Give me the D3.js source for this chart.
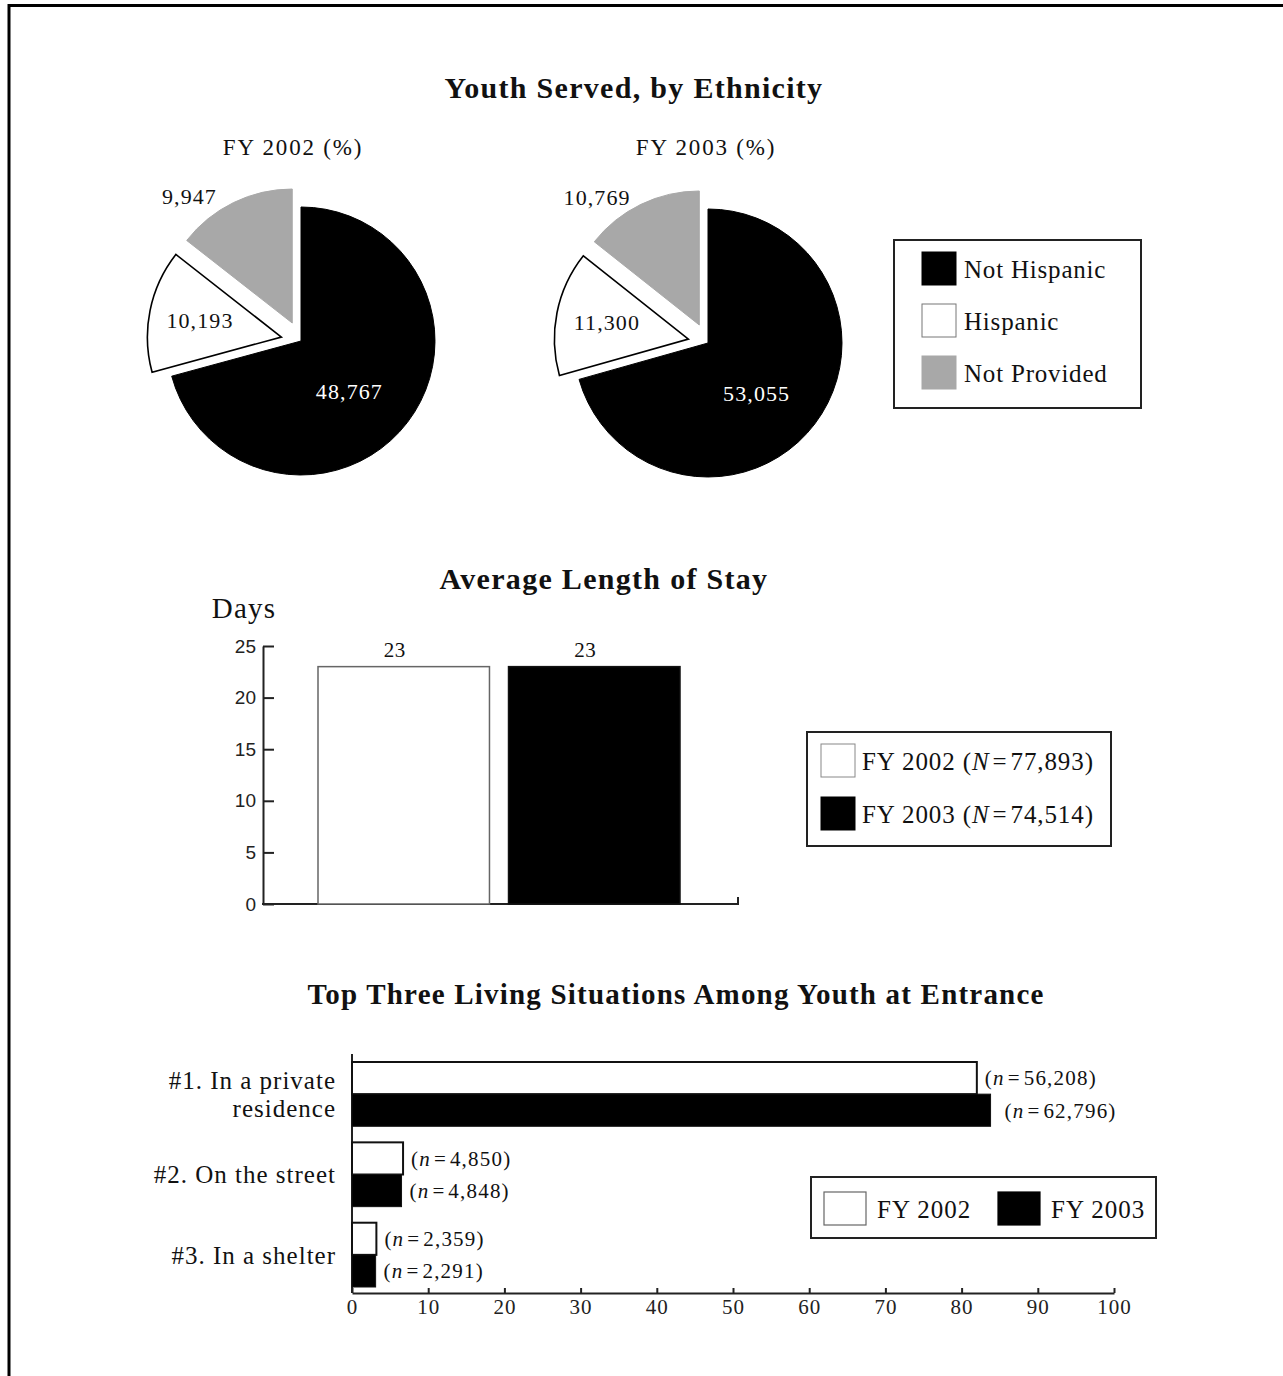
<!DOCTYPE html>
<html>
<head>
<meta charset="utf-8">
<script src="https://cdn.jsdelivr.net/npm/d3@7"></script>
<style>
  html, body { margin: 0; padding: 0; background: #fff; }
  svg { display: block; }
  text { font-family: "Liberation Serif", "Times New Roman", serif; fill: #111; }
</style>
</head>
<body>
<svg id="chart" width="1283" height="1376"></svg>
<script>
// ---- data ----
const ethnicityCategories = ["Not Hispanic", "Hispanic", "Not Provided"];
const ethnicityYears = ["FY 2002 (%)", "FY 2003 (%)"];
const ethnicity2002 = [48767, 10193, 9947];
const ethnicity2003 = [53055, 11300, 10769];

const stayYears = ["FY 2002", "FY 2003"];
const stayDays = [23, 23];
const stayLegendN = ["77,893", "74,514"];
const stayTicks = [0, 5, 10, 15, 20, 25];

const livingCategories = ["#1. In a private residence", "#2. On the street", "#3. In a shelter"];
const livingPct2002 = [82.0, 6.7, 3.2];
const livingPct2003 = [83.8, 6.5, 3.1];
const livingN2002 = ["56,208", "4,850", "2,359"];
const livingN2003 = ["62,796", "4,848", "2,291"];
const livingTicks = [0, 10, 20, 30, 40, 50, 60, 70, 80, 90, 100];

// ---- setup ----
const svg = d3.select("#chart");
const fillFor = d3.scaleOrdinal().domain(ethnicityCategories).range(["#000", "#fff", "#a8a8a8"]);
const yearFill = d3.scaleOrdinal().domain(stayYears).range(["#fff", "#000"]);
const EQ = "\u200A=\u200A";

// page frame
svg.append("line").attr("x1", 8).attr("x2", 1283).attr("y1", 5.5).attr("y2", 5.5)
  .attr("stroke", "#000").attr("stroke-width", 3);
svg.append("line").attr("x1", 9).attr("x2", 9).attr("y1", 4).attr("y2", 1376)
  .attr("stroke", "#000").attr("stroke-width", 3);

function title(x, y, size, spacing, txt) {
  svg.append("text").attr("x", x).attr("y", y).attr("text-anchor", "middle")
    .attr("font-weight", "bold").attr("font-size", size)
    .attr("letter-spacing", spacing).text(txt);
}

// ================= Youth Served, by Ethnicity =================
title(634, 98, 30, 1.3, "Youth Served, by Ethnicity");

const pieGen = d3.pie().sort(null).value(d => d.value);
const radius = 134;
const explode = 20;
const arcGen = d3.arc().innerRadius(0).outerRadius(radius);

function polar(angle, r) { return [Math.sin(angle) * r, -Math.cos(angle) * r]; }

function drawPie(values, cx, cy, heading, headingX) {
  svg.append("text").attr("x", headingX).attr("y", 155).attr("text-anchor", "middle")
    .attr("font-size", 23).attr("letter-spacing", 1.8).text(heading);
  const g = svg.append("g").attr("transform", `translate(${cx},${cy})`);
  const arcs = pieGen(values.map((v, i) => ({ key: ethnicityCategories[i], value: v })));
  arcs.forEach((a, i) => {
    const mid = (a.startAngle + a.endAngle) / 2;
    const off = i === 0 ? [0, 0] : polar(mid, explode);
    const sg = g.append("g").attr("transform", `translate(${off[0]},${off[1]})`);
    sg.append("path").attr("d", arcGen(a))
      .attr("fill", fillFor(a.data.key))
      .attr("stroke", i === 1 ? "#000" : fillFor(a.data.key))
      .attr("stroke-width", i === 1 ? 1.6 : 1);
    let lp, col = "#111";
    if (i === 0) { lp = polar(mid + 0.15, radius * 0.52); col = "#fff"; }
    else if (i === 1) { lp = polar(mid, radius * 0.62); }
    else { lp = polar(a.startAngle + 0.25 * (a.endAngle - a.startAngle), radius * 1.22); }
    sg.append("text").attr("x", lp[0]).attr("y", lp[1]).attr("dy", "0.35em")
      .attr("text-anchor", "middle").attr("font-size", 22).attr("letter-spacing", 1.1)
      .style("fill", col).text(d3.format(",")(a.value));
  });
}
drawPie(ethnicity2002, 301, 341, ethnicityYears[0], 293);
drawPie(ethnicity2003, 708, 343, ethnicityYears[1], 706);

// legend
const leg1 = svg.append("g");
leg1.append("rect").attr("x", 894).attr("y", 240).attr("width", 247).attr("height", 168)
  .attr("fill", "#fff").attr("stroke", "#222").attr("stroke-width", 2);
ethnicityCategories.forEach((c, i) => {
  const y = 252 + i * 52;
  leg1.append("rect").attr("x", 922).attr("y", y).attr("width", 34).attr("height", 33)
    .attr("fill", fillFor(c)).attr("stroke", i === 1 ? "#777" : fillFor(c)).attr("stroke-width", 1);
  leg1.append("text").attr("x", 964).attr("y", y + 17).attr("dy", "0.35em")
    .attr("font-size", 25).attr("letter-spacing", 0.8).text(c);
});

// ================= Average Length of Stay =================
title(604, 589, 30, 1.3, "Average Length of Stay");
svg.append("text").attr("x", 244).attr("y", 618).attr("text-anchor", "middle")
  .attr("font-size", 29).attr("letter-spacing", 1.2).text("Days");

const yStay = d3.scaleLinear().domain([0, 25]).range([904, 646]);
const xStay = d3.scaleBand().domain(stayYears).range([318, 680]).paddingInner(0.1);

const yAxisG = svg.append("g").attr("transform", "translate(263,0)")
  .call(d3.axisLeft(yStay).tickValues(stayTicks).tickSizeInner(-11).tickSizeOuter(0).tickPadding(7));
yAxisG.select(".domain").attr("stroke", "#222").attr("stroke-width", 2);
yAxisG.selectAll(".tick line").attr("stroke", "#222").attr("stroke-width", 2);
yAxisG.selectAll(".tick text").style("font-family", "'Liberation Sans', Arial, sans-serif")
  .attr("font-size", 19).style("fill", "#222");

svg.append("path")
  .attr("d", `M262,${yStay(0)}H738V${yStay(0) - 7}`)
  .attr("fill", "none").attr("stroke", "#222").attr("stroke-width", 2);

stayYears.forEach((yr, i) => {
  svg.append("rect").attr("x", xStay(yr)).attr("y", yStay(stayDays[i]))
    .attr("width", xStay.bandwidth()).attr("height", yStay(0) - yStay(stayDays[i]))
    .attr("fill", yearFill(yr)).attr("stroke", i === 0 ? "#666" : "#111").attr("stroke-width", 1.5);
  svg.append("text").attr("x", xStay(yr) + xStay.bandwidth() / 2 - 9).attr("y", yStay(stayDays[i]) - 10)
    .attr("text-anchor", "middle").attr("font-size", 21).attr("letter-spacing", 0.5).text(stayDays[i]);
});

// legend
const leg2 = svg.append("g");
leg2.append("rect").attr("x", 807).attr("y", 732).attr("width", 304).attr("height", 114)
  .attr("fill", "#fff").attr("stroke", "#222").attr("stroke-width", 2);
stayYears.forEach((yr, i) => {
  const y = 744 + i * 53;
  leg2.append("rect").attr("x", 821).attr("y", y).attr("width", 34).attr("height", 33)
    .attr("fill", yearFill(yr)).attr("stroke", i === 0 ? "#888" : "#000").attr("stroke-width", 1);
  const tx = leg2.append("text").attr("x", 862).attr("y", y + 17).attr("dy", "0.35em")
    .attr("font-size", 25).attr("letter-spacing", 0.9);
  tx.append("tspan").text(yr + " (");
  tx.append("tspan").attr("font-style", "italic").text("N");
  tx.append("tspan").text(EQ + stayLegendN[i] + ")");
});

// ================= Top Three Living Situations =================
title(676, 1004, 29, 1.2, "Top Three Living Situations Among Youth at Entrance");

const xLiv = d3.scaleLinear().domain([0, 100]).range([352, 1114]);
const yLiv = d3.scaleBand().domain(livingCategories).range([1062, 1287]).paddingInner(0.2);
const ySub = d3.scaleBand().domain(stayYears).range([0, yLiv.bandwidth()]);

const xAxisG = svg.append("g").attr("transform", "translate(0,1293)")
  .call(d3.axisBottom(xLiv).tickValues(livingTicks).tickSizeInner(-5).tickSizeOuter(0).tickPadding(6));
xAxisG.select(".domain").attr("stroke", "#222").attr("stroke-width", 2);
xAxisG.selectAll(".tick line").attr("stroke", "#222").attr("stroke-width", 2);
xAxisG.selectAll(".tick text").style("font-family", "'Liberation Serif', serif")
  .attr("font-size", 21).attr("letter-spacing", 1).style("fill", "#222");

svg.append("line").attr("x1", 352).attr("x2", 352).attr("y1", 1054).attr("y2", 1293)
  .attr("stroke", "#222").attr("stroke-width", 2);

livingCategories.forEach((cat, i) => {
  const series = [
    { yr: stayYears[0], v: livingPct2002[i], n: livingN2002[i] },
    { yr: stayYears[1], v: livingPct2003[i], n: livingN2003[i] }
  ];
  series.forEach((s, j) => {
    const y = yLiv(cat) + ySub(s.yr);
    svg.append("rect").attr("x", xLiv(0)).attr("y", y)
      .attr("width", xLiv(s.v) - xLiv(0)).attr("height", ySub.bandwidth())
      .attr("fill", yearFill(s.yr)).attr("stroke", "#111").attr("stroke-width", j === 0 ? 2 : 1);
    const lab = svg.append("text").attr("x", xLiv(s.v) + (i === 0 && j === 1 ? 14 : 8))
      .attr("y", y + ySub.bandwidth() / 2).attr("dy", "0.35em")
      .attr("font-size", 21).attr("letter-spacing", 1.2);
    lab.append("tspan").text("(");
    lab.append("tspan").attr("font-style", "italic").text("n");
    lab.append("tspan").text(EQ + s.n + ")");
  });
  // category label, wrapped onto two lines for the first entry
  const cy = yLiv(cat) + yLiv.bandwidth() / 2;
  const lines = i === 0 ? ["#1. In a private", "residence"] : [cat];
  lines.forEach((ln, k) => {
    svg.append("text").attr("x", 336)
      .attr("y", cy + (k - (lines.length - 1) / 2) * 28).attr("dy", "0.35em")
      .attr("text-anchor", "end").attr("font-size", 25).attr("letter-spacing", 1.0).text(ln);
  });
});

// legend
const leg3 = svg.append("g");
leg3.append("rect").attr("x", 811).attr("y", 1177).attr("width", 345).attr("height", 61)
  .attr("fill", "#fff").attr("stroke", "#222").attr("stroke-width", 2);
stayYears.forEach((yr, i) => {
  const x = 824 + i * 174;
  leg3.append("rect").attr("x", x).attr("y", 1192).attr("width", 42).attr("height", 33)
    .attr("fill", yearFill(yr)).attr("stroke", i === 0 ? "#666" : "#000").attr("stroke-width", 1.2);
  leg3.append("text").attr("x", x + 53).attr("y", 1209).attr("dy", "0.35em")
    .attr("font-size", 25).attr("letter-spacing", 1.0).text(yr);
});
</script>
</body>
</html>
